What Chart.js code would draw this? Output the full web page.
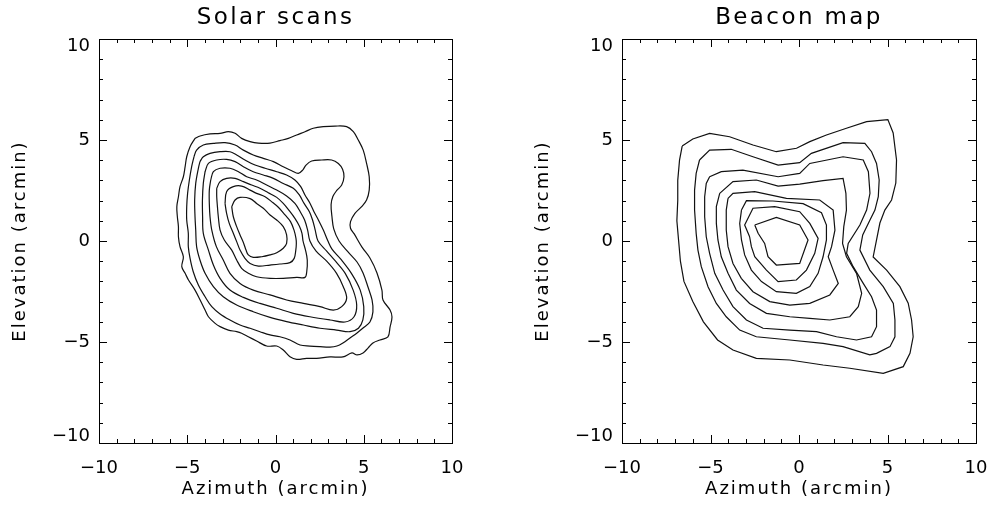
<!DOCTYPE html>
<html>
<head>
<meta charset="utf-8">
<script src="https://cdn.jsdelivr.net/npm/chart.js@4"></script>
<style>
  body { margin: 0; background: #fff; }
  .row { display: flex; width: 988px; height: 508px; }
</style>
</head>
<body>
<div class="row">
  <canvas id="solarChart" width="494" height="508"></canvas>
  <canvas id="beaconChart" width="494" height="508"></canvas>
</div>
<script>
// axis range and labelled ticks (minor ticks every 1 arcmin)
const axisMin = -10;
const axisMax = 10;
const majorTicks = [-10, -5, 0, 5, 10];
const minorStep = 1;

const solarTitle = 'Solar scans';
const beaconTitle = 'Beacon map';
const xTitle = 'Azimuth (arcmin)';
const yTitle = 'Elevation (arcmin)';

// ----------------------
// Solar scans contours [azimuth, elevation], outermost first
// ----------------------
const solarC1 = [[-4.56,5.08],[-4.27,5.20],[-3.71,5.30],[-3.14,5.33],[-2.67,5.41],[-2.29,5.33],[-1.92,5.08],[-1.44,4.92],[-0.97,4.85],[-0.31,4.85],[0.25,4.97],[0.73,5.08],[1.20,5.25],[1.67,5.41],[2.14,5.58],[2.71,5.66],[3.37,5.69],[4.03,5.66],[4.41,5.41],[4.69,5.00],[4.97,4.50],[5.16,3.84],[5.31,3.18],[5.31,2.52],[5.16,2.03],[4.88,1.70],[4.50,1.37],[4.25,0.96],[4.25,0.63],[4.46,0.35],[4.90,-0.30],[5.35,-0.84],[5.75,-1.58],[6.03,-2.43],[6.09,-2.92],[6.49,-3.42],[6.60,-3.76],[6.49,-4.26],[6.37,-4.75],[5.92,-4.90],[5.52,-5.05],[5.24,-5.30],[4.96,-5.54],[4.62,-5.64],[4.33,-5.54],[3.82,-5.74],[3.09,-5.74],[2.33,-5.81],[1.76,-5.81],[1.20,-5.86],[0.82,-5.73],[0.44,-5.40],[0.07,-5.20],[-0.50,-5.20],[-1.07,-4.95],[-1.54,-4.74],[-1.92,-4.57],[-2.20,-4.49],[-2.67,-4.41],[-3.14,-4.24],[-3.42,-4.08],[-3.80,-3.75],[-3.99,-3.42],[-4.27,-2.92],[-4.56,-2.43],[-4.93,-1.93],[-5.12,-1.60],[-5.31,-1.27],[-5.22,-0.78],[-5.41,-0.28],[-5.50,0.21],[-5.50,0.71],[-5.56,1.20],[-5.59,1.70],[-5.50,2.19],[-5.41,2.69],[-5.22,3.18],[-5.12,3.68],[-5.03,4.17],[-4.84,4.67]];
const solarC2 = [[-4.62,4.17],[-4.47,4.50],[-4.09,4.75],[-3.52,4.83],[-2.86,4.87],[-2.29,4.75],[-1.82,4.50],[-1.26,4.26],[-0.69,4.09],[-0.12,3.93],[0.44,3.68],[0.92,3.48],[1.29,3.35],[1.54,3.51],[1.73,3.76],[2.05,3.96],[2.62,4.01],[3.18,4.01],[3.56,3.84],[3.80,3.55],[3.88,3.18],[3.75,2.77],[3.46,2.49],[3.25,2.20],[3.15,1.80],[3.20,1.20],[3.30,0.60],[3.60,0.00],[4.11,-0.54],[4.62,-1.04],[4.96,-1.58],[5.24,-2.28],[5.47,-2.92],[5.52,-3.51],[5.35,-4.01],[4.96,-4.31],[4.62,-4.55],[4.22,-4.80],[3.82,-5.05],[3.48,-5.20],[3.09,-5.25],[2.52,-5.23],[1.95,-5.20],[1.39,-5.15],[0.82,-4.90],[0.25,-4.74],[-0.31,-4.65],[-0.88,-4.49],[-1.44,-4.32],[-2.01,-4.16],[-2.58,-3.91],[-3.14,-3.61],[-3.61,-3.25],[-3.99,-2.76],[-4.37,-2.18],[-4.66,-1.52],[-4.84,-0.86],[-4.94,-0.28],[-4.94,0.38],[-5.03,1.04],[-5.03,1.70],[-4.98,2.36],[-4.88,3.02],[-4.75,3.68]];
const solarC3 = [[-4.28,3.93],[-4.09,4.17],[-3.71,4.34],[-3.14,4.42],[-2.58,4.42],[-2.20,4.26],[-1.73,4.01],[-1.16,3.76],[-0.59,3.60],[0.07,3.43],[0.63,3.27],[1.10,3.02],[1.43,2.69],[1.67,2.28],[1.96,1.86],[2.18,1.45],[2.43,1.04],[2.71,0.54],[2.97,0.00],[3.20,-0.40],[3.70,-0.90],[4.30,-1.60],[4.80,-2.43],[5.00,-3.25],[4.95,-3.91],[4.70,-4.32],[4.22,-4.49],[3.46,-4.41],[2.52,-4.32],[1.58,-4.16],[0.63,-3.99],[-0.31,-3.78],[-1.26,-3.50],[-2.20,-3.17],[-2.96,-2.76],[-3.52,-2.26],[-3.99,-1.60],[-4.28,-0.94],[-4.47,-0.28],[-4.52,0.54],[-4.56,1.20],[-4.58,2.03],[-4.52,2.85],[-4.37,3.60]];
const solarC4 = [[-3.99,3.43],[-3.80,3.84],[-3.33,4.01],[-2.77,4.04],[-2.29,3.93],[-1.82,3.68],[-1.26,3.43],[-0.69,3.27],[-0.12,3.10],[0.44,2.85],[1.01,2.61],[1.35,2.28],[1.62,1.86],[1.92,1.45],[2.10,1.04],[2.25,0.54],[2.41,0.00],[2.90,-0.50],[3.40,-1.00],[3.95,-1.60],[4.40,-2.43],[4.60,-3.17],[4.45,-3.75],[3.94,-4.01],[3.09,-3.91],[1.95,-3.75],[1.01,-3.58],[0.07,-3.33],[-0.88,-3.09],[-1.82,-2.79],[-2.58,-2.43],[-3.14,-1.85],[-3.52,-1.19],[-3.80,-0.45],[-4.09,0.38],[-4.13,1.20],[-4.14,2.03],[-4.09,2.85]];
const solarC5 = [[-3.67,3.02],[-3.52,3.43],[-3.14,3.60],[-2.58,3.60],[-2.10,3.43],[-1.63,3.18],[-1.07,3.02],[-0.50,2.77],[0.07,2.52],[0.63,2.23],[1.10,1.86],[1.40,1.45],[1.65,1.04],[1.82,0.54],[1.95,0.00],[2.30,-0.50],[2.90,-1.00],[3.46,-1.60],[3.84,-2.26],[4.03,-2.84],[3.75,-3.25],[3.27,-3.42],[2.52,-3.25],[1.58,-3.09],[0.63,-2.92],[-0.31,-2.67],[-1.26,-2.43],[-2.01,-2.10],[-2.58,-1.60],[-2.96,-0.94],[-3.35,-0.28],[-3.61,0.54],[-3.71,1.20],[-3.75,1.86],[-3.75,2.52]];
const solarC6 = [[-3.33,2.61],[-3.14,2.94],[-2.77,3.10],[-2.29,3.10],[-1.82,2.94],[-1.35,2.77],[-0.88,2.61],[-0.41,2.39],[0.07,2.16],[0.44,1.86],[0.78,1.50],[1.10,1.12],[1.35,0.74],[1.50,0.38],[1.56,0.00],[1.70,-0.45],[1.80,-0.94],[1.77,-1.52],[1.67,-1.80],[1.20,-1.80],[0.44,-1.85],[-0.31,-1.85],[-1.07,-1.77],[-1.54,-1.60],[-1.92,-1.35],[-2.20,-0.94],[-2.48,-0.45],[-2.90,0.05],[-3.14,0.54],[-3.24,1.20],[-3.29,1.70],[-3.33,2.19]];
const solarC7 = [[-2.86,1.86],[-2.77,2.44],[-2.39,2.69],[-1.92,2.72],[-1.44,2.52],[-1.07,2.36],[-0.59,2.19],[-0.22,1.95],[0.16,1.67],[0.54,1.29],[0.85,0.96],[1.05,0.54],[1.16,0.13],[1.18,-0.12],[1.15,-0.45],[1.06,-0.86],[0.82,-1.07],[0.25,-1.14],[-0.31,-1.19],[-0.97,-1.24],[-1.44,-1.11],[-1.73,-0.86],[-2.01,-0.45],[-2.20,-0.03],[-2.39,0.38],[-2.62,0.87],[-2.77,1.37]];
const solarC8 = [[-2.48,1.70],[-2.29,2.03],[-2.01,2.16],[-1.44,2.10],[-1.07,1.86],[-0.69,1.62],[-0.31,1.29],[0.07,1.04],[0.44,0.71],[0.63,0.30],[0.63,-0.12],[0.44,-0.36],[0.07,-0.58],[-0.31,-0.69],[-0.78,-0.78],[-1.26,-0.81],[-1.54,-0.69],[-1.67,-0.45],[-1.80,-0.12],[-2.01,0.30],[-2.20,0.71],[-2.39,1.20]];

// ----------------------
// Beacon map contours [azimuth, elevation], outermost first
// ----------------------
const beaconC1 = [[-6.60,4.70],[-6.00,5.05],[-5.05,5.33],[-3.92,5.16],[-2.60,4.75],[-1.28,4.42],[-0.14,4.59],[0.61,4.92],[1.55,5.25],[2.68,5.58],[3.82,5.91],[5.02,6.01],[5.32,5.35],[5.51,4.01],[5.47,2.87],[5.23,2.03],[4.85,1.53],[4.57,0.89],[4.19,-0.79],[4.95,-1.44],[5.70,-2.26],[6.17,-3.08],[6.36,-3.91],[6.45,-4.74],[6.27,-5.56],[5.89,-6.22],[4.76,-6.55],[2.87,-6.30],[1.36,-6.14],[-0.52,-5.89],[-2.41,-5.81],[-3.73,-5.40],[-4.60,-4.90],[-5.40,-4.00],[-6.00,-3.00],[-6.50,-2.00],[-6.70,-1.00],[-6.80,0.00],[-6.90,1.00],[-6.85,2.00],[-6.85,3.00],[-6.75,4.00]];
const beaconC2 = [[-5.62,4.01],[-5.05,4.50],[-3.83,4.54],[-2.60,4.17],[-1.18,3.76],[0.04,3.88],[0.70,4.34],[2.49,4.87],[3.72,4.83],[4.10,4.42],[4.38,3.84],[4.53,3.02],[4.48,2.19],[4.29,1.53],[4.01,1.04],[3.60,0.30],[3.44,-0.45],[4.00,-1.44],[4.76,-2.26],[5.33,-3.09],[5.42,-3.91],[5.42,-4.74],[5.14,-5.23],[4.38,-5.56],[4.00,-5.64],[2.49,-5.23],[1.36,-5.07],[-0.52,-4.90],[-2.41,-4.74],[-3.35,-4.41],[-4.11,-3.75],[-4.67,-3.09],[-5.14,-2.26],[-5.52,-1.27],[-5.71,-0.45],[-5.81,0.38],[-5.90,1.53],[-5.90,2.52],[-5.81,3.35]];
const beaconC3 = [[-5.05,3.18],[-4.39,3.43],[-3.17,3.51],[-1.18,3.18],[0.04,3.35],[0.61,3.84],[2.49,4.17],[3.63,4.01],[3.92,3.43],[4.01,2.36],[3.82,1.53],[3.44,0.79],[2.78,-0.12],[2.69,-0.61],[3.06,-1.27],[3.63,-2.10],[4.10,-2.76],[4.38,-3.42],[4.38,-4.24],[4.10,-4.74],[3.25,-4.90],[2.12,-4.74],[0.99,-4.49],[-0.52,-4.41],[-2.03,-4.32],[-2.97,-3.91],[-3.73,-3.25],[-4.29,-2.43],[-4.76,-1.60],[-5.05,-0.61],[-5.24,0.21],[-5.33,1.20],[-5.33,2.19],[-5.24,2.85]];
const beaconC4 = [[-4.48,2.36],[-3.73,2.94],[-2.41,3.02],[-1.18,2.72],[0.04,2.82],[1.36,2.99],[2.49,3.10],[2.65,2.36],[2.68,1.53],[2.53,0.71],[2.46,-0.12],[2.68,-0.78],[3.25,-1.60],[3.54,-2.59],[3.35,-3.25],[2.87,-3.75],[1.74,-3.91],[0.61,-3.83],[-0.52,-3.75],[-1.84,-3.58],[-2.79,-3.09],[-3.54,-2.43],[-4.01,-1.60],[-4.39,-0.78],[-4.58,0.05],[-4.67,0.87],[-4.67,1.70]];
const beaconC5 = [[-4.01,2.11],[-3.73,2.36],[-2.50,2.44],[-0.71,2.11],[1.17,2.03],[1.93,1.53],[2.03,0.54],[1.84,-0.28],[1.65,-0.78],[1.93,-1.44],[2.22,-2.10],[1.74,-2.67],[0.61,-3.09],[-0.52,-3.17],[-1.65,-3.00],[-2.60,-2.51],[-3.26,-1.85],[-3.73,-1.11],[-4.01,-0.28],[-4.11,0.54],[-4.11,1.53]];
const beaconC6 = [[-3.25,1.53],[-2.97,2.00],[-1.47,1.98],[0.23,1.85],[1.27,1.40],[1.55,0.79],[1.55,0.05],[1.36,-0.78],[1.08,-1.60],[0.61,-2.26],[-0.15,-2.59],[-1.28,-2.51],[-2.12,-2.01],[-2.69,-1.44],[-3.07,-0.69],[-3.25,0.05],[-3.35,0.87]];
const beaconC7 = [[-2.79,0.21],[-3.07,0.79],[-2.60,1.62],[-1.37,1.70],[0.04,1.45],[0.61,0.87],[1.08,0.13],[0.89,-0.61],[0.42,-1.44],[-0.15,-1.93],[-1.18,-2.01],[-1.84,-1.44],[-2.50,-0.78],[-2.69,-0.28]];
const beaconC8 = [[-2.50,0.79],[-1.28,1.17],[0.04,0.79],[0.51,0.05],[0.04,-1.11],[-1.28,-1.19],[-1.75,-0.78],[-1.94,-0.12],[-2.31,0.38]];

const solarContours = [solarC1, solarC2, solarC3, solarC4, solarC5, solarC6, solarC7, solarC8];
const beaconContours = [beaconC1, beaconC2, beaconC3, beaconC4, beaconC5, beaconC6, beaconC7, beaconC8];

const FONT = '"DejaVu Sans", "Liberation Sans", sans-serif';

function fmtTick(v) {
  return v < 0 ? '\u2212' + Math.abs(v) : String(v);
}

// closed polyline from a contour array
function toPoints(arr) {
  const pts = arr.map(([x, y]) => ({ x, y }));
  pts.push({ ...pts[0] });
  return pts;
}

// ----------------------
// Frame, inward ticks, labels and titles (IDL style box)
// ----------------------
const framePlugin = {
  id: 'frame',
  afterDraw(chart, args, opts) {
    const { ctx, chartArea: a, scales: { x, y } } = chart;
    ctx.save();
    ctx.strokeStyle = '#000';
    ctx.fillStyle = '#000';
    ctx.lineWidth = 1;
    ctx.strokeRect(a.left + 0.5, a.top + 0.5, a.right - a.left, a.bottom - a.top);

    ctx.beginPath();
    for (let v = axisMin; v <= axisMax; v += minorStep) {
      const len = majorTicks.includes(v) ? 8 : 4;
      const px = Math.round(x.getPixelForValue(v)) + 0.5;
      const py = Math.round(y.getPixelForValue(v)) + 0.5;
      ctx.moveTo(px, a.bottom); ctx.lineTo(px, a.bottom - len);
      ctx.moveTo(px, a.top); ctx.lineTo(px, a.top + len);
      ctx.moveTo(a.left, py); ctx.lineTo(a.left + len, py);
      ctx.moveTo(a.right, py); ctx.lineTo(a.right - len, py);
    }
    ctx.stroke();

    // tick labels
    ctx.font = '18px ' + FONT;
    ctx.textBaseline = 'middle';
    ctx.textAlign = 'center';
    majorTicks.forEach(v => {
      ctx.fillText(fmtTick(v), x.getPixelForValue(v), a.bottom + 25);
    });
    ctx.textAlign = 'right';
    majorTicks.forEach(v => {
      let py = y.getPixelForValue(v);
      if (v === axisMax) py += 7;
      if (v === axisMin) py -= 7;
      ctx.fillText(fmtTick(v), a.left - 9, py);
    });

    // axis titles
    const midX = (a.left + a.right) / 2;
    const midY = (a.top + a.bottom) / 2;
    ctx.letterSpacing = '2px';
    ctx.textAlign = 'center';
    ctx.fillText(xTitle, midX, a.bottom + 46);
    ctx.save();
    ctx.translate(a.left - 79, midY);
    ctx.rotate(-Math.PI / 2);
    ctx.fillText(yTitle, 0, 0);
    ctx.restore();

    // panel title
    ctx.font = '23px ' + FONT;
    ctx.letterSpacing = '2.4px';
    ctx.fillText(opts.title, midX, 18);
    ctx.restore();
  }
};

function makeChart(id, title, contours, padding, tension) {
  return new Chart(document.getElementById(id), {
    type: 'scatter',
    data: {
      datasets: contours.map(c => ({
        data: toPoints(c),
        showLine: true,
        borderColor: '#111',
        borderWidth: 1.2,
        pointRadius: 0,
        fill: false,
        tension
      }))
    },
    options: {
      responsive: false,
      animation: false,
      devicePixelRatio: 1,
      layout: { padding },
      plugins: {
        legend: { display: false },
        tooltip: { enabled: false },
        frame: { title }
      },
      scales: {
        x: { type: 'linear', min: axisMin, max: axisMax, display: false },
        y: { type: 'linear', min: axisMin, max: axisMax, display: false }
      }
    },
    plugins: [framePlugin]
  });
}

makeChart('solarChart', solarTitle, solarContours, { left: 99, right: 42, top: 39, bottom: 65 }, 0.35);
makeChart('beaconChart', beaconTitle, beaconContours, { left: 128, right: 12, top: 39, bottom: 65 }, 0);
</script>
</body>
</html>
